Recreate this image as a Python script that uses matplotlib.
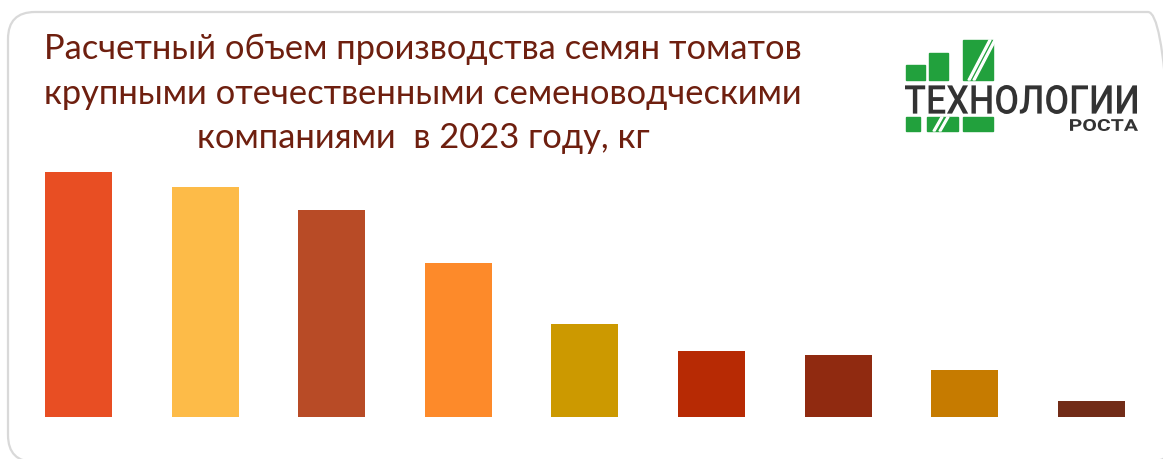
import matplotlib
matplotlib.use("Agg")
import matplotlib.pyplot as plt
from matplotlib.patches import FancyBboxPatch, Rectangle, PathPatch, Polygon
from matplotlib.textpath import TextPath
from matplotlib.font_manager import FontProperties
from matplotlib.transforms import IdentityTransform, Affine2D

# estimated bar heights (no axis in the original, relative units)
companies = list(range(1, 10))
volumes = [244.5, 229.5, 206.5, 153.5, 92.5, 65.5, 61.5, 46.5, 15.5]
colors = ["#E84E23", "#FDBB48", "#B84B26", "#FD8A2A", "#CC9900",
          "#B72A04", "#902A10", "#C67B00", "#722C18"]
title_lines = ["Расчетный объем производства семян томатов",
               "крупными отечественными семеноводческими",
               "компаниями  в 2023 году, кг"]

W, H = 1163, 459
fig = plt.figure(figsize=(W / 100, H / 100), dpi=100)
fig.patch.set_facecolor("white")

def px(x, y):
    # top-left pixel coords -> display coords
    return x, H - y

# rounded frame
frame = FancyBboxPatch(px(8, 462), 1167, 450,
                       boxstyle="round,pad=0,rounding_size=27",
                       transform=IdentityTransform(), facecolor="none",
                       edgecolor="#D9D9D9", linewidth=1.6, clip_on=False, zorder=-1)
fig.patches.append(frame)

# bars
ax = fig.add_axes([15 / W, (H - 416.5) / H, 1140 / W, (416.5 - 160) / H])
ax.bar(range(len(volumes)), volumes, width=67 / 126.6, color=colors)
ax.set_xlim((15 - 78.5) / 126.6, (1155 - 78.5) / 126.6)
ax.set_ylim(0, 256.5)
ax.axis("off")

# title
title_color = "#6E1F0F"
for i, line in enumerate(title_lines):
    fig.text(423 / W, 1 - (49 + i * 44.5) / H, line, ha="center", va="center",
             fontsize=24.8, color=title_color, family="Lato")

# logo
green = "#22A13D"
for x0, y0, x1, y1 in [(906, 65, 925, 80), (929, 53, 948, 80), (963, 40, 993, 80),
                       (906, 117, 920, 131), (927, 117, 958, 131), (963, 117, 993, 131)]:
    fig.patches.append(Rectangle(px(x0, y1), x1 - x0, y1 - y0,
                                 transform=IdentityTransform(), color=green))
# white strokes through the blocks
for dx in (0, 5):
    fig.patches.append(Polygon([px(968 + dx, 80), px(970 + dx, 80), px(991 + dx, 40), px(989 + dx, 40)],
                               transform=IdentityTransform(), color="white"))
for dx in (0, 6):
    fig.patches.append(Polygon([px(933 + dx, 131), px(935 + dx, 131), px(943 + dx, 117), px(941 + dx, 117)],
                               transform=IdentityTransform(), color="white"))

def fit_text(s, x0, y0, x1, y1, weight="bold"):
    tp = TextPath((0, 0), s, size=100, prop=FontProperties(family="Roboto", weight=weight))
    bb = tp.get_extents()
    sx = (x1 - x0) / bb.width
    sy = (y1 - y0) / bb.height
    tr = Affine2D().translate(-bb.x0, -bb.y0).scale(sx, sy).translate(x0, H - y1)
    fig.patches.append(PathPatch(tr.transform_path(tp), transform=IdentityTransform(),
                                 facecolor="#333333", edgecolor="none"))

fit_text("ТЕХНОЛОГИИ", 905, 85, 1137, 114, weight="medium")
fit_text("РОСТА", 1070, 119, 1138, 131)

fig.savefig("out.png", dpi=100, facecolor="white")
